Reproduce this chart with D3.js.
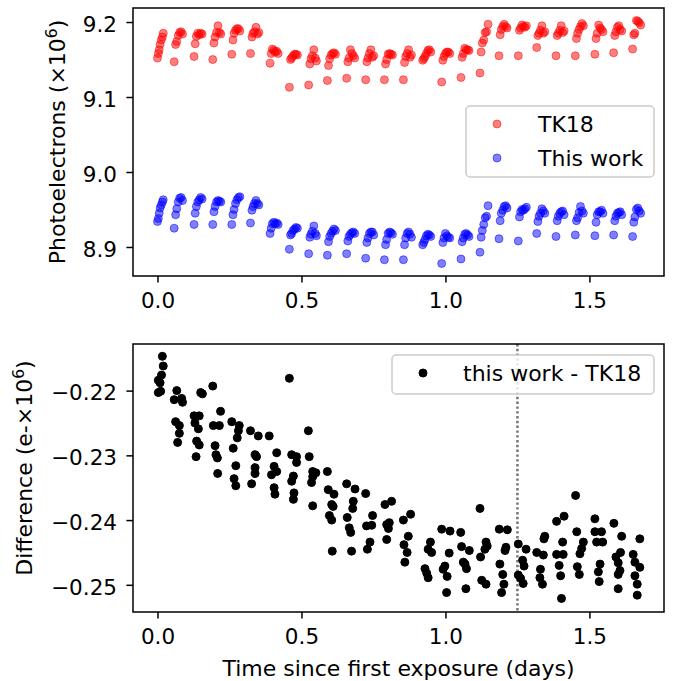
<!DOCTYPE html>
<html>
<head>
<meta charset="utf-8">
<script src="https://cdn.jsdelivr.net/npm/d3@7"></script>
<style>
  body { margin: 0; background: #fff; }
  svg { display: block; font-family: "DejaVu Sans", sans-serif; }
</style>
</head>
<body>
<script>
// exposure times, one row per orbit (days since first exposure)
const days = [
  [0.000,0.003,0.006,0.009,0.013,0.017,0.020],
  [0.058,0.063,0.067,0.072,0.077,0.082,0.087],
  [0.127,0.131,0.135,0.140,0.145,0.150,0.155],
  [0.192,0.196,0.200,0.205,0.210,0.215,0.220],
  [0.258,0.262,0.266,0.271,0.276,0.281,0.286],
  [0.323,0.328,0.332,0.337,0.342,0.347,0.352],
  [0.391,0.395,0.399,0.404,0.409,0.414,0.419],
  [0.458,0.462,0.466,0.471,0.476,0.481,0.486],
  [0.525,0.529,0.533,0.538,0.543,0.548,0.552],
  [0.590,0.594,0.598,0.603,0.608,0.613,0.618],
  [0.657,0.661,0.665,0.670,0.675,0.680,0.685],
  [0.723,0.727,0.731,0.736,0.741,0.746,0.751],
  [0.788,0.792,0.796,0.801,0.806,0.811,0.816],
  [0.854,0.858,0.862,0.867,0.872,0.877,0.882],
  [0.921,0.925,0.929,0.934,0.939,0.944,0.949],
  [0.987,0.991,0.995,1.000,1.005,1.010,1.015],
  [1.054,1.058,1.062,1.067,1.072,1.077,1.082],
  [1.120,1.124,1.128,1.133,1.138,1.143,1.148],
  [1.186,1.190,1.194,1.199,1.204,1.209,1.214],
  [1.253,1.257,1.261,1.266,1.271,1.276,1.281],
  [1.317,1.321,1.325,1.330,1.335,1.340,1.345],
  [1.384,1.388,1.392,1.397,1.402,1.407,1.412],
  [1.451,1.455,1.459,1.464,1.469,1.474,1.479],
  [1.519,1.523,1.527,1.532,1.537,1.542,1.547],
  [1.584,1.588,1.592,1.597,1.602,1.607,1.612],
  [1.650,1.654,1.658,1.663,1.668,1.673,1.678]
];

// photoelectrons (x10^6)
const tk18 = [
  [9.152,9.158,9.163,9.170,9.176,9.180,9.185],
  [9.147,9.170,9.174,9.182,9.186,9.187,9.184],
  [9.154,9.171,9.181,9.185,9.183,9.185,9.184],
  [9.150,9.172,9.180,9.186,9.195,9.186,9.184],
  [9.157,9.176,9.185,9.189,9.191,9.191,9.188],
  [9.158,9.180,9.185,9.187,9.193,9.184,9.186],
  [9.145,9.158,9.164,9.162,9.160,9.161,9.158],
  [9.113,9.150,9.152,9.155,9.157,9.157,9.156],
  [9.116,9.144,9.151,9.155,9.163,9.152,9.148],
  [9.122,9.142,9.151,9.156,9.158,9.159,9.157],
  [9.125,9.147,9.152,9.163,9.158,9.155,9.152],
  [9.123,9.147,9.152,9.158,9.163,9.153,9.155],
  [9.123,9.144,9.150,9.157,9.158,9.157,9.156],
  [9.123,9.146,9.154,9.158,9.163,9.153,9.156],
  [9.149,9.151,9.154,9.158,9.162,9.163,9.160],
  [9.120,9.149,9.154,9.158,9.160,9.160,9.158],
  [9.126,9.153,9.158,9.165,9.163,9.163,9.162],
  [9.132,9.160,9.172,9.176,9.186,9.187,9.197],
  [9.155,9.183,9.190,9.194,9.197,9.194,9.192],
  [9.155,9.189,9.192,9.196,9.194,9.193,9.195],
  [9.166,9.182,9.185,9.189,9.195,9.185,9.187],
  [9.155,9.182,9.185,9.189,9.195,9.186,9.188],
  [9.155,9.178,9.185,9.190,9.194,9.198,9.195],
  [9.157,9.178,9.185,9.196,9.192,9.190,9.187],
  [9.159,9.182,9.187,9.193,9.195,9.190,9.188],
  [9.164,9.183,9.185,9.202,9.201,9.199,9.196]
];

const thisWork = [
  [8.934,8.938,8.945,8.952,8.956,8.960,8.963],
  [8.925,8.943,8.951,8.960,8.965,8.966,8.962],
  [8.930,8.945,8.954,8.960,8.963,8.966,8.964],
  [8.930,8.947,8.954,8.960,8.962,8.961,8.960],
  [8.930,8.943,8.950,8.958,8.963,8.966,8.967],
  [8.932,8.949,8.954,8.958,8.962,8.958,8.956],
  [8.918,8.925,8.931,8.933,8.931,8.932,8.930],
  [8.897,8.916,8.918,8.922,8.924,8.926,8.925],
  [8.891,8.913,8.917,8.921,8.928,8.918,8.915],
  [8.889,8.907,8.914,8.918,8.921,8.924,8.922],
  [8.891,8.908,8.914,8.917,8.919,8.920,8.918],
  [8.885,8.906,8.912,8.918,8.920,8.920,8.916],
  [8.883,8.903,8.910,8.918,8.920,8.919,8.917],
  [8.883,8.903,8.912,8.918,8.920,8.917,8.913],
  [8.903,8.906,8.910,8.915,8.917,8.916,8.914],
  [8.878,8.906,8.912,8.918,8.915,8.913,8.912],
  [8.884,8.907,8.912,8.917,8.918,8.916,8.914],
  [8.893,8.913,8.922,8.930,8.939,8.941,8.955],
  [8.911,8.935,8.945,8.949,8.954,8.955,8.952],
  [8.908,8.940,8.947,8.950,8.949,8.951,8.953],
  [8.918,8.934,8.941,8.945,8.951,8.948,8.945],
  [8.914,8.935,8.941,8.945,8.947,8.948,8.943],
  [8.916,8.935,8.939,8.946,8.954,8.948,8.945],
  [8.915,8.933,8.943,8.947,8.947,8.949,8.945],
  [8.916,8.935,8.941,8.945,8.946,8.947,8.943],
  [8.914,8.933,8.940,8.950,8.952,8.948,8.945]
];

// lower panel: this work - TK18 (e- x10^6)
const diffDays = [
  [0.003,0.003,0.009,0.011,0.014,0.017,0.020],
  [0.058,0.063,0.067,0.070,0.076,0.076,0.084,0.087],
  [0.127,0.130,0.134,0.136,0.142,0.145,0.145,0.150,0.156],
  [0.192,0.194,0.200,0.203,0.208,0.209,0.215,0.219],
  [0.258,0.263,0.266,0.272,0.272,0.277,0.281,0.284],
  [0.323,0.327,0.339,0.339,0.339,0.344,0.350],
  [0.388,0.396,0.405,0.405,0.408,0.414,0.414],
  [0.458,0.466,0.466,0.472,0.472,0.474,0.483,0.483],
  [0.524,0.527,0.535,0.539,0.539,0.539,0.550],
  [0.590,0.593,0.597,0.605,0.605,0.607,0.610,0.613],
  [0.657,0.659,0.666,0.671,0.674,0.678,0.680,0.686],
  [0.723,0.726,0.729,0.738,0.744,0.747],
  [0.790,0.796,0.796,0.802,0.805,0.813],
  [0.854,0.856,0.859,0.867,0.871,0.879],
  [0.929,0.935,0.940,0.940,0.948,0.952],
  [0.987,0.992,0.998,1.004,1.006,1.013,1.016],
  [1.053,1.056,1.062,1.068,1.071,1.073,1.083],
  [1.120,1.122,1.126,1.137,1.141,1.141,1.145],
  [1.187,1.189,1.195,1.199,1.203,1.207,1.210,1.215],
  [1.253,1.253,1.261,1.268,1.270,1.273,1.280],
  [1.317,1.328,1.330,1.337,1.340,1.342,1.345],
  [1.386,1.386,1.395,1.400,1.403,1.407,1.409,1.412],
  [1.452,1.456,1.458,1.465,1.467,1.473,1.479],
  [1.519,1.519,1.525,1.531,1.534,1.537,1.542,1.546],
  [1.585,1.592,1.600,1.600,1.600,1.606,1.608,1.612],
  [1.652,1.658,1.658,1.666,1.666,1.675,1.675]
];

const diff = [
  [-0.2203,-0.2184,-0.2188,-0.2201,-0.2176,-0.2147,-0.2162],
  [-0.2214,-0.2248,-0.2200,-0.2280,-0.2254,-0.2266,-0.2212,-0.2218],
  [-0.2239,-0.2250,-0.2302,-0.2278,-0.2259,-0.2239,-0.2284,-0.2203,-0.2205],
  [-0.2193,-0.2254,-0.2285,-0.2299,-0.2304,-0.2328,-0.2254,-0.2232],
  [-0.2248,-0.2289,-0.2336,-0.2316,-0.2347,-0.2273,-0.2262,-0.2254],
  [-0.2262,-0.2344,-0.2299,-0.2319,-0.2328,-0.2302,-0.2270],
  [-0.2270,-0.2330,-0.2350,-0.2317,-0.2360,-0.2296,-0.2325],
  [-0.2181,-0.2299,-0.2340,-0.2332,-0.2368,-0.2358,-0.2302,-0.2311],
  [-0.2262,-0.2302,-0.2342,-0.2325,-0.2333,-0.2378,-0.2327],
  [-0.2325,-0.2353,-0.2393,-0.2376,-0.2400,-0.2448,-0.2379,-0.2360],
  [-0.2344,-0.2396,-0.2412,-0.2419,-0.2448,-0.2382,-0.2371,-0.2352],
  [-0.2359,-0.2409,-0.2445,-0.2434,-0.2408,-0.2393],
  [-0.2376,-0.2407,-0.2430,-0.2413,-0.2404,-0.2371],
  [-0.2400,-0.2438,-0.2465,-0.2450,-0.2425,-0.2391],
  [-0.2475,-0.2482,-0.2445,-0.2489,-0.2434,-0.2450],
  [-0.2414,-0.2476,-0.2471,-0.2512,-0.2487,-0.2451,-0.2417],
  [-0.2419,-0.2441,-0.2465,-0.2468,-0.2506,-0.2475,-0.2447],
  [-0.2382,-0.2457,-0.2493,-0.2445,-0.2434,-0.2499,-0.2440],
  [-0.2414,-0.2468,-0.2512,-0.2484,-0.2499,-0.2447,-0.2442,-0.2415],
  [-0.2437,-0.2485,-0.2490,-0.2462,-0.2498,-0.2471,-0.2445],
  [-0.2450,-0.2489,-0.2476,-0.2499,-0.2454,-0.2429,-0.2425],
  [-0.2402,-0.2453,-0.2470,-0.2486,-0.2521,-0.2434,-0.2453,-0.2394],
  [-0.2362,-0.2418,-0.2472,-0.2484,-0.2452,-0.2444,-0.2434],
  [-0.2398,-0.2418,-0.2434,-0.2480,-0.2495,-0.2468,-0.2418,-0.2434],
  [-0.2405,-0.2457,-0.2466,-0.2484,-0.2506,-0.2478,-0.2450,-0.2425],
  [-0.2453,-0.2465,-0.2486,-0.2499,-0.2516,-0.2429,-0.2473]
];

const xTicks = [0, 0.5, 1.0, 1.5];
const topTicks = [8.9, 9.0, 9.1, 9.2];
const botTicks = [-0.25, -0.24, -0.23, -0.22];
const cutDay = 1.25;

const width = 678, height = 681;
const left = 133, right = 664;
const topBox = {top: 8, bottom: 276};
const botBox = {top: 344, bottom: 612};

const svg = d3.select("body").append("svg")
  .attr("width", width)
  .attr("height", height);

const xScale = d3.scaleLinear().domain([-0.085, 1.759]).range([left, right]);
const yTop = d3.scaleLinear().domain([8.8613, 9.2187]).range([topBox.bottom, topBox.top]);
const yBot = d3.scaleLinear().domain([-0.2542, -0.2128]).range([botBox.bottom, botBox.top]);

const topPts = d3.merge(days).map((t, i) => ({t: t, red: d3.merge(tk18)[i], blue: d3.merge(thisWork)[i]}));
const botPts = d3.merge(diffDays).map((t, i) => ({t: t, v: d3.merge(diff)[i]}));

const drawAxes = (box, yScale, yTicks, fmt) => {
  const xAxis = d3.axisBottom(xScale).tickValues(xTicks).tickFormat(d3.format(".1f"))
    .tickSize(6.6).tickSizeOuter(0).tickPadding(10.5);
  const yAxis = d3.axisLeft(yScale).tickValues(yTicks).tickFormat(d3.format(fmt))
    .tickSize(6.6).tickSizeOuter(0).tickPadding(9.4);

  const gx = svg.append("g")
    .attr("transform", `translate(0, ${box.bottom})`)
    .call(xAxis);
  const gy = svg.append("g")
    .attr("transform", `translate(${left}, 0)`)
    .call(yAxis);

  [gx, gy].forEach(g => {
    g.select(".domain").remove();
    g.selectAll(".tick line").attr("stroke", "#000").attr("stroke-width", 1.5);
    g.selectAll(".tick text").attr("fill", "#000")
      .style("font-family", "DejaVu Sans").style("font-size", "21.5px");
  });
  gy.selectAll(".tick text").attr("dy", "0.43em");
};

const drawBox = box => {
  svg.append("rect")
    .attr("x", left).attr("y", box.top)
    .attr("width", right - left).attr("height", box.bottom - box.top)
    .attr("fill", "none").attr("stroke", "#000").attr("stroke-width", 1.5);
};

const yLabel = (x, y, main, tail) => {
  const t = svg.append("text")
    .attr("transform", `translate(${x}, ${y}) rotate(-90)`)
    .attr("text-anchor", "middle")
    .style("font-size", "22px")
    .attr("fill", "#000");
  t.append("tspan").text(main);
  t.append("tspan").attr("dy", -8).style("font-size", "15.5px").text("6");
  t.append("tspan").attr("dy", 8).text(tail);
};

const marker = (sel, color, alpha) => sel
  .attr("r", 4)
  .attr("fill", color).attr("fill-opacity", alpha)
  .attr("stroke", color).attr("stroke-opacity", alpha).attr("stroke-width", 1);

// top panel
drawAxes(topBox, yTop, topTicks, ".1f");

svg.append("g").selectAll("circle")
  .data(topPts)
  .enter()
  .append("circle")
  .attr("cx", d => xScale(d.t))
  .attr("cy", d => yTop(d.red))
  .call(marker, "#ff0000", 0.5);

svg.append("g").selectAll("circle")
  .data(topPts)
  .enter()
  .append("circle")
  .attr("cx", d => xScale(d.t))
  .attr("cy", d => yTop(d.blue))
  .call(marker, "#0000ff", 0.5);

drawBox(topBox);
yLabel(65, 142, "Photoelectrons (\u00d710", ")");

const legend = (x, y, w, h, rows) => {
  const g = svg.append("g");
  g.append("rect")
    .attr("x", x).attr("y", y).attr("width", w).attr("height", h)
    .attr("rx", 4)
    .attr("fill", "#fff").attr("fill-opacity", 0.8)
    .attr("stroke", "#cccccc").attr("stroke-width", 1.5);
  rows.forEach(r => {
    g.append("circle").attr("cx", r.mx).attr("cy", r.my).call(marker, r.color, r.alpha);
    g.append("text")
      .attr("x", r.tx).attr("y", r.my + 8)
      .style("font-size", "22px")
      .attr("fill", "#000")
      .text(r.label);
  });
};

legend(466, 106, 188, 71, [
  {mx: 497, my: 124, tx: 538, color: "#ff0000", alpha: 0.5, label: "TK18"},
  {mx: 497, my: 158, tx: 538, color: "#0000ff", alpha: 0.5, label: "This work"}
]);

// bottom panel
drawAxes(botBox, yBot, botTicks, ".2f");

svg.append("line")
  .attr("x1", xScale(cutDay)).attr("x2", xScale(cutDay))
  .attr("y1", botBox.top).attr("y2", botBox.bottom)
  .attr("stroke", "#7a7a7a").attr("stroke-width", 2.6)
  .attr("stroke-dasharray", "2.4,2.4");

svg.append("g").selectAll("circle")
  .data(botPts)
  .enter()
  .append("circle")
  .attr("cx", d => xScale(d.t))
  .attr("cy", d => yBot(d.v))
  .call(marker, "#000", 1);

drawBox(botBox);
yLabel(32, 468, "Difference (e-\u00d710", ")");

legend(392, 355, 262, 39, [
  {mx: 423, my: 373, tx: 463, color: "#000", alpha: 1, label: "this work - TK18"}
]);

svg.append("text")
  .attr("x", (left + right) / 2)
  .attr("y", 676)
  .attr("text-anchor", "middle")
  .style("font-size", "22px")
  .attr("fill", "#000")
  .text("Time since first exposure (days)");
</script>
</body>
</html>
